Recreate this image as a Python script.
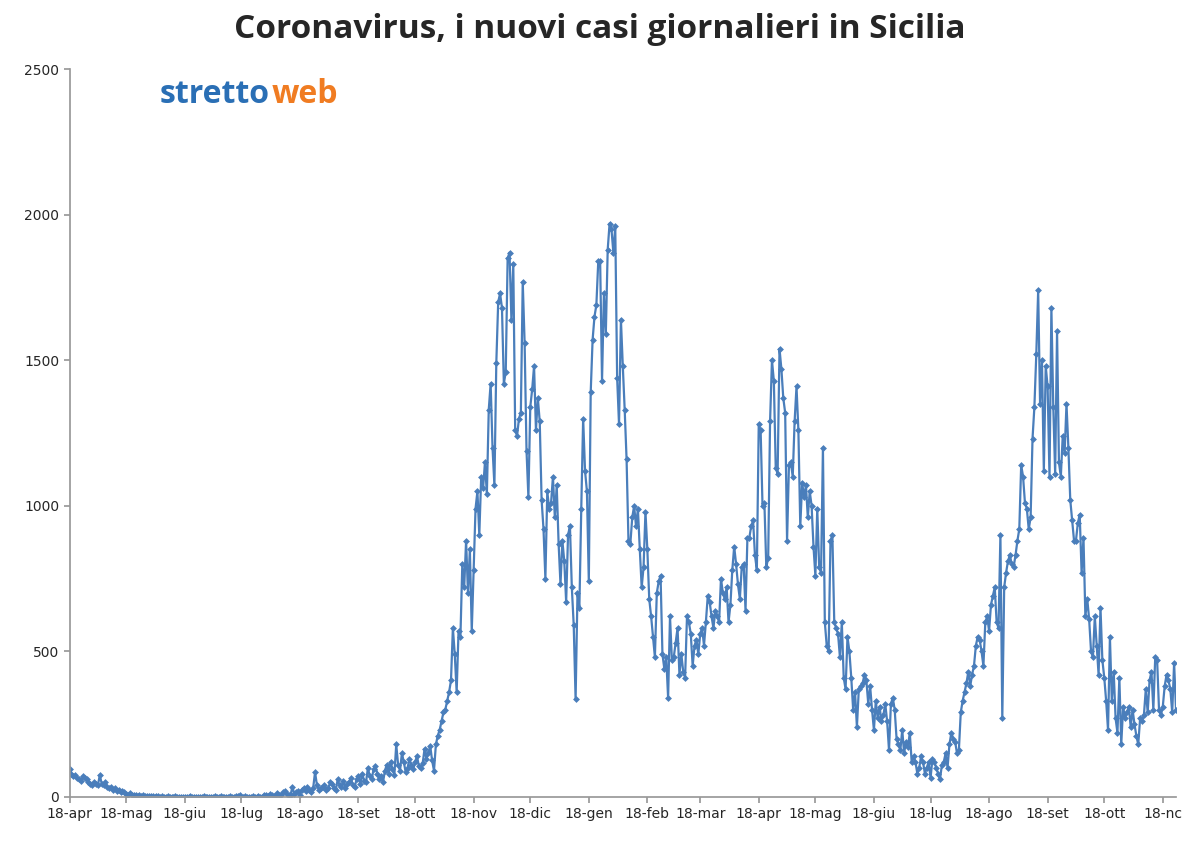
import numpy as np, pandas as pd, matplotlib
matplotlib.use("Agg")
import matplotlib.pyplot as plt, seaborn as sns

m1=[95,80,70,75,65,60,55,70,65,60,50,45,40,50,45,40,75,45,40,50,35,30,35,25,30,20,25,15,20,15]
m2=[10,8,12,5,8,6,4,5,3,6,4,2,3,2,4,1,2,3,1,2,0,1,2,0,1,0,2,1,0,1,0]
m3=[0,1,0,2,0,1,0,0,1,0,2,1,0,0,1,0,3,1,0,2,1,0,0,1,2,0,1,3,2,5,1,0,2,0,1,0,3,1,0,2,1,0]
m4=[8,5,3,10,6,4,2,12,8,5,15,20,10,8,5,35,10,15,20,8,25,30,20,35,25,15,30,85,40,25,30]
m5=[35,40,25,30,50,45,30,25,60,40,35,55,30,45,50,65,40,35,60,70,45,80,55,50,100,70,60,95,105,80,60]
m6=[70,50,90,110,80,120,95,75,180,110,90,150,120,85,100,130,110,95,120,140,105,100,115,165,130,150,175,125,90,180]
m7=[210,230,260,290,300,330,360,400,580,490,360,570,550,800,720,880,700,850,570,780,990,1050,900,1100,1060,1150,1040,1330,1420,1200,1070]
m8=[1490,1700,1730,1680,1420,1460,1850,1870,1640,1830,1260,1240,1300,1320,1770,1560,1190,1030,1340,1400,1480,1260,1370,1290,1020,920,750,1050,990,1010]
m9=[1100,960,1070,870,730,880,810,670,900,930,720,590,335,700,650,990,1300,1120,1050,740,1390,1570,1650,1690,1840,1840,1430,1730,1590,1880,1970]
m10=[1950,1870,1960,1440,1280,1640,1480,1330,1160,880,870,960,1000,930,990,850,720,790,980,850,680,620,550,480,700,740,760,490,440,480,340]
m11=[620,470,480,530,580,420,490,430,410,620,600,560,450,520,540,490,560,580,520,600,690,670,620,580,640,620,600,750,700,680,720,600,660]
m12=[780,860,800,730,680,790,800,640,890,890,930,950,830,780,1280,1260,1000,1010,790,820,1290,1500,1430,1130,1110,1540,1470,1370,1320,880,1140]
m13=[1150,1100,1290,1410,1260,930,1080,1030,1070,960,1050,1000,860,760,990,790,770,1200,600,520,500,880,900,600,580,560,480,600,410,370]
m14=[550,500,410,300,360,240,370,380,390,420,400,320,380,300,230,330,270,310,260,280,320,260,160,320,340,300,200,180,160,230,150]
m15=[190,170,220,120,140,120,80,100,140,120,80,100,120,65,130,120,100,80,60,110,120,150,100,180,220,200,190,150,160,290]
m16=[330,360,390,430,380,420,450,520,550,540,500,450,600,620,570,660,690,720,600,580,900,270,720,770,810,830,800,790,830,880,920]
m17=[1140,1100,1010,990,920,960,1230,1340,1520,1740,1350,1500,1120,1480,1410,1100,1680,1340,1110,1600,1150,1100,1240,1180,1350,1200,1020,950,880,880,940]
m18=[970,770,890,620,680,610,500,480,620,520,420,650,470,410,330,230,550,330,430,270,220,410,180,310]
m19=[270,290,310,240,300,250,210,180,270,260,280,370,290,400,430,300,480,470,300,280,310,380,420,400,370,290,460,300]
values=m1+m2+m3+m4+m5+m6+m7+m8+m9+m10+m11+m12+m13+m14+m15+m16+m17+m18+m19
dates=pd.date_range("2020-04-18",periods=len(values),freq="D")
df=pd.DataFrame({"data":dates,"casi":values})

mesi=["gen","feb","mar","apr","mag","giu","lug","ago","set","ott","nov","dic"]
tick_dates=[pd.Timestamp(2020+(3+i)//12,(3+i)%12+1,18) for i in range(20)]
tick_labels=[f"18-{mesi[d.month-1]}" for d in tick_dates]
tick_labels[-1]="18-nc"

sns.set_theme(style="white")
plt.rcParams['font.family']=['DejaVu Sans']
fig,ax=plt.subplots(figsize=(12,8.55),dpi=100)
fig.subplots_adjust(left=0.058,right=0.98,top=0.919,bottom=0.068)
sns.lineplot(data=df,x="data",y="casi",ax=ax,color="#4a7ebb",lw=1.6,marker="D",markersize=3.5,markeredgewidth=0)
ax.set_xlim(pd.Timestamp("2020-04-18"),dates[-1])
ax.set_ylim(0,2500)
ax.set_yticks([0,500,1000,1500,2000,2500])
ax.set_xticks(tick_dates)
ax.set_xticklabels(tick_labels,fontsize=10)
ax.tick_params(axis='y',labelsize=10,left=True,length=4,color="#999999")
ax.tick_params(axis='x',bottom=True,length=4,color="#999999")
ax.set_xlabel("");ax.set_ylabel("")
for s in ["top","right"]: ax.spines[s].set_visible(False)
for s in ["left","bottom"]: ax.spines[s].set_color("#999999")
fig.suptitle("Coronavirus, i nuovi casi giornalieri in Sicilia",fontsize=24,fontweight="bold",y=0.985,family="Open Sans")
fig.text(0.133,0.88,"stretto",color="#2a6fb5",fontsize=23,fontweight="bold",family="Open Sans")
fig.text(0.226,0.88,"web",color="#f07c22",fontsize=23,fontweight="bold",family="Open Sans")
fig.savefig("out.png")
